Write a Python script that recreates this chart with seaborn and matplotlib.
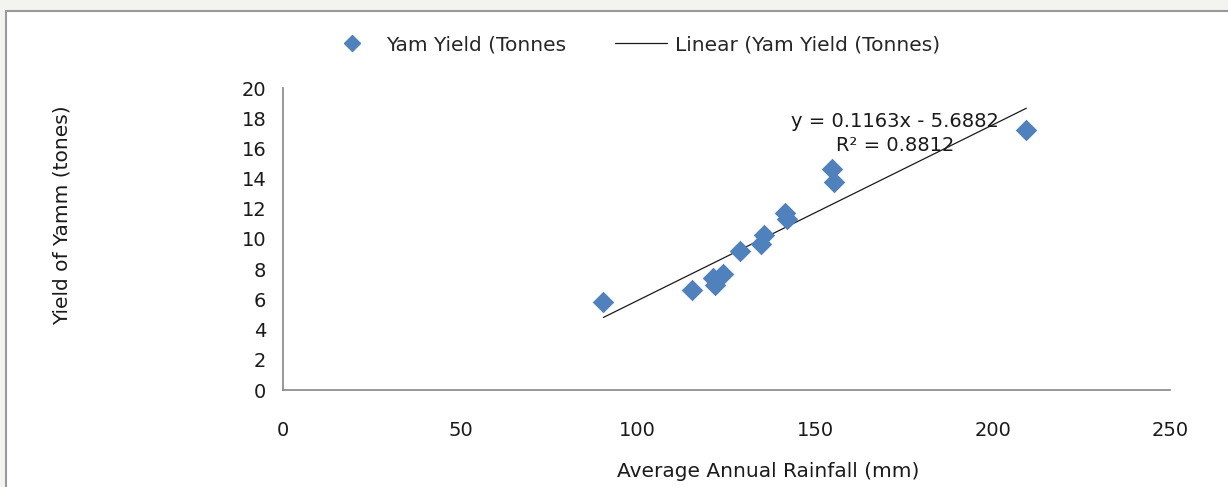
import numpy as np
import pandas as pd
import seaborn as sns
import matplotlib.pyplot as plt
from matplotlib.lines import Line2D
from matplotlib.patches import Rectangle

# data
rainfall = [90.3, 115.2, 121.8, 121.3, 124.1, 128.8, 134.7, 135.7, 141.5, 142.0, 154.6, 155.3, 209.5]
yam_yield = [5.8, 6.6, 6.95, 7.4, 7.7, 9.2, 9.7, 10.25, 11.7, 11.35, 14.65, 13.8, 17.2]
eq_text = "y = 0.1163x - 5.6882\nR\u00b2 = 0.8812"
x_ticks = [0, 50, 100, 150, 200, 250]
y_ticks = list(range(0, 21, 2))

df = pd.DataFrame({'rain': rainfall, 'yield': yam_yield})

sns.set_theme(style="white")
plt.rcParams['font.family'] = ['DejaVu Sans']

fig = plt.figure(figsize=(12.28, 4.87), dpi=100, facecolor='#f3f3ef')
# white chart area with grey frame (only top and left edges visible)
fig.patches.append(Rectangle((6 / 1228, -0.2), 1.2, 1.2 - 11 / 487, transform=fig.transFigure,
                             facecolor='white', edgecolor='#999999', linewidth=1.5, zorder=-1))

ax = fig.add_axes([283 / 1228, 1 - 390 / 487, 887 / 1228, 302 / 487])
ax.set_facecolor('white')

sns.regplot(data=df, x='rain', y='yield', scatter=False, ci=None, truncate=True,
            line_kws={'color': '#1a1a1a', 'lw': 0.9}, ax=ax)
sns.scatterplot(data=df, x='rain', y='yield', marker='D', s=120, color='#4f81bd',
                edgecolor='#4f81bd', linewidth=0, ax=ax, zorder=3)

ax.set_xlim(0, 250)
ax.set_ylim(0, 20)
ax.set_xticks(x_ticks)
ax.set_yticks(y_ticks)
ax.tick_params(axis='both', labelsize=14, colors='#1a1a1a', length=5, width=1, color='#868686')
ax.tick_params(axis='x', pad=17)
ax.tick_params(axis='y', pad=7)
sns.despine(ax=ax)
for s in ['left', 'bottom']:
    ax.spines[s].set_color('#868686')
    ax.spines[s].set_linewidth(1.2)

ax.set_xlabel('Average Annual Rainfall (mm)', fontsize=14.5, color='#1a1a1a')
ax.xaxis.set_label_coords(0.547, -0.238)
ax.set_ylabel('Yield of Yamm (tones)', fontsize=14.5, color='#1a1a1a')
ax.yaxis.set_label_coords(-0.238, 0.58)

ax.text(172.5, 17.0, eq_text, ha='center', va='center', fontsize=14, color='#1a1a1a',
        linespacing=1.35)

handles = [Line2D([], [], marker='D', color='#4f81bd', linestyle='none', markersize=8),
           Line2D([], [], color='#1a1a1a', lw=0.9)]
fig.legend(handles, ['Yam Yield (Tonnes', 'Linear (Yam Yield (Tonnes)'], loc='center',
           bbox_to_anchor=(633 / 1228, 1 - 45 / 487), ncol=2, frameon=False, fontsize=14.5,
           handlelength=2.6, columnspacing=2.4, handletextpad=0.4)

fig.savefig('out.png', dpi=100, facecolor=fig.get_facecolor())
